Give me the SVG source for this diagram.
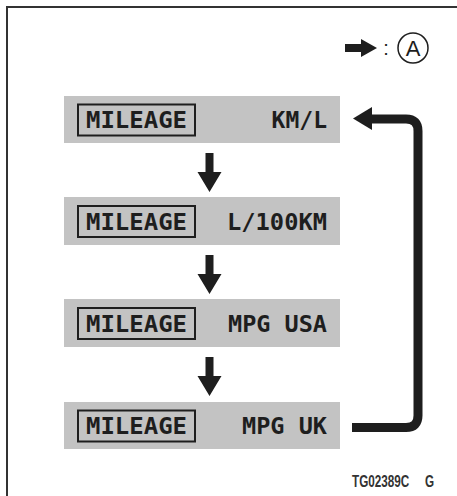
<svg xmlns="http://www.w3.org/2000/svg" width="457" height="496" viewBox="0 0 457 496">
<defs>
<style>
.box{fill:#c3c3c3;}
.inner{fill:none;stroke:#1e1e1e;stroke-width:2;}
.t{font-family:"DejaVu Sans Mono","Liberation Mono",monospace;font-weight:bold;font-size:23px;fill:#1e1e1e;}
.arrow{fill:#1e1e1e;}
.code{font-family:"Liberation Sans",Arial,sans-serif;font-weight:bold;font-size:17px;fill:#333;}
</style>
<symbol id="down" overflow="visible">
<path d="M-4,0 H4 V19 H12 L0,39 L-12,19 H-4 Z"/>
</symbol>
</defs>
<rect width="457" height="496" fill="#fff"/>
<rect x="7" y="7" width="470" height="520" fill="none" stroke="#333" stroke-width="2"/>
<g id="legend">
<path class="arrow" d="M345,44 H361 V39 L377,48 L361,57 V52 H345 Z"/>
<text x="386" y="55" font-family="Liberation Sans,sans-serif" font-size="20" fill="#1e1e1e" text-anchor="middle">:</text>
<circle cx="413" cy="48" r="15" fill="none" stroke="#1e1e1e" stroke-width="1.5"/>
<text x="413" y="56" font-family="Liberation Sans,sans-serif" font-size="22" fill="#1e1e1e" text-anchor="middle">A</text>
</g>
<g id="n1">
<rect class="box" x="64" y="96" width="276" height="47"/>
<rect class="inner" x="78" y="104.5" width="117" height="31"/>
<text class="t" x="86" y="128" textLength="101" lengthAdjust="spacingAndGlyphs">MILEAGE</text>
<text class="t" x="327" y="128" text-anchor="end">KM/L</text>
</g>
<g id="n2">
<rect class="box" x="64" y="197" width="276" height="48"/>
<rect class="inner" x="78" y="206" width="117" height="31"/>
<text class="t" x="86" y="230" textLength="101" lengthAdjust="spacingAndGlyphs">MILEAGE</text>
<text class="t" x="227" y="230" textLength="100" lengthAdjust="spacingAndGlyphs">L/100KM</text>
</g>
<g id="n3">
<rect class="box" x="64" y="299" width="276" height="48"/>
<rect class="inner" x="78" y="308" width="117" height="31"/>
<text class="t" x="86" y="332" textLength="101" lengthAdjust="spacingAndGlyphs">MILEAGE</text>
<text class="t" x="228" y="332" textLength="99" lengthAdjust="spacingAndGlyphs">MPG USA</text>
</g>
<g id="n4">
<rect class="box" x="64" y="402" width="276" height="47"/>
<rect class="inner" x="78" y="410.5" width="117" height="31"/>
<text class="t" x="86" y="434" textLength="101" lengthAdjust="spacingAndGlyphs">MILEAGE</text>
<text class="t" x="242" y="434" textLength="85" lengthAdjust="spacingAndGlyphs">MPG UK</text>
</g>
<g id="connectors" class="arrow">
<use href="#down" x="209.5" y="153"/>
<use href="#down" x="209.5" y="255"/>
<use href="#down" x="209.5" y="357"/>
<path d="M352,427.5 H406 Q418,427.5 418,415.5 V131 Q418,119 406,119 H370" fill="none" stroke="#1e1e1e" stroke-width="9"/>
<path d="M353,118.5 L372,107 V130 Z"/>
</g>
<text class="code" transform="translate(352,487) scale(0.69,1)">TG02389C</text>
<text class="code" transform="translate(425,487) scale(0.69,1)">G</text>
</svg>
